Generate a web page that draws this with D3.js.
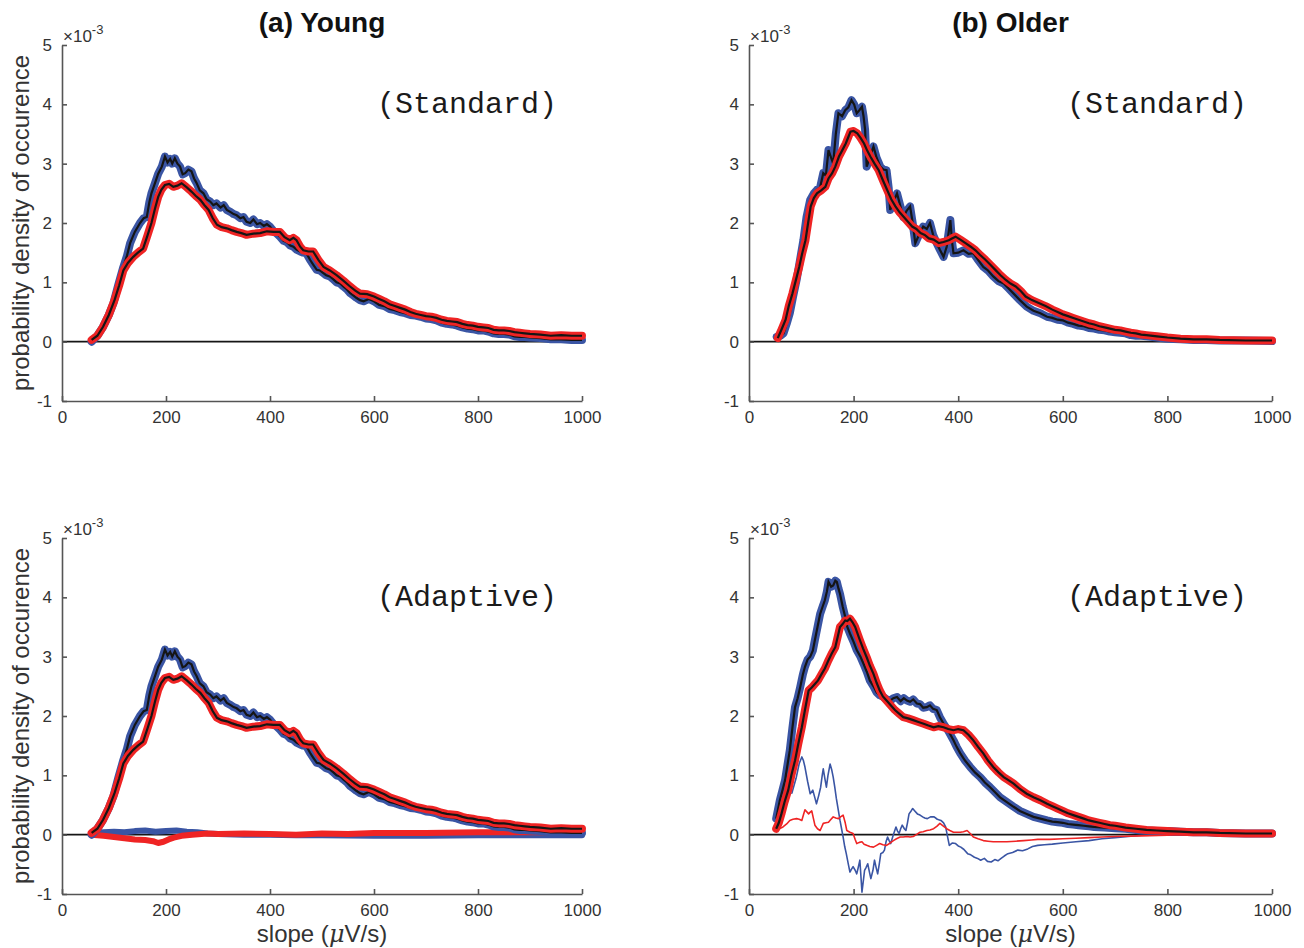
<!DOCTYPE html>
<html>
<head>
<meta charset="utf-8">
<script src="https://cdn.jsdelivr.net/npm/d3@7"></script>
<style>
  html, body { margin: 0; padding: 0; background: #fff; }
  svg { display: block; }
</style>
</head>
<body>
<svg id="chart" width="1304" height="948"></svg>
<script>
// ---------------- DATA (slope in µV/s, density in 1e-3 units) ----------------
const xTicks = [0, 200, 400, 600, 800, 1000];
const yTicks = [-1, 0, 1, 2, 3, 4, 5];
const columnTitles = ["(a) Young", "(b) Older"];
const rowLabels = ["(Standard)", "(Adaptive)"];

// (a) Young, Standard
const youngStdBlue = [[57,0.0],[68,0.1],[79,0.25],[90,0.45],[99,0.65],[108,0.95],[118,1.26],[125,1.45],[131,1.66],[140,1.85],[150,2.0],[157,2.08],[163,2.1],[168,2.35],[172,2.5],[178,2.65],[185,2.83],[192,2.95],[198,3.12],[203,3.02],[208,3.08],[212,3.0],[217,3.09],[222,3.0],[227,2.95],[232,2.82],[237,2.84],[243,2.9],[249,2.87],[254,2.75],[259,2.67],[265,2.55],[272,2.5],[278,2.4],[285,2.36],[291,2.3],[297,2.33],[305,2.26],[311,2.3],[317,2.22],[325,2.18],[330,2.15],[336,2.13],[343,2.08],[349,2.1],[355,2.02],[362,2.0],[368,2.06],[375,1.98],[381,2.0],[388,1.95],[394,1.98],[400,1.94],[407,1.86],[413,1.82],[419,1.77],[426,1.7],[432,1.68],[439,1.62],[445,1.6],[451,1.55],[458,1.52],[464,1.5],[470,1.49],[477,1.38],[483,1.3],[490,1.21],[496,1.2],[502,1.16],[508,1.12],[515,1.1],[522,1.05],[528,1.0],[535,0.98],[541,0.93],[548,0.88],[554,0.82],[560,0.78],[566,0.74],[573,0.7],[580,0.68],[590,0.72],[600,0.68],[610,0.62],[620,0.6],[630,0.55],[640,0.53],[650,0.5],[660,0.48],[670,0.45],[680,0.44],[690,0.42],[700,0.39],[710,0.38],[720,0.36],[730,0.32],[740,0.3],[750,0.29],[760,0.27],[770,0.24],[780,0.22],[790,0.21],[800,0.19],[810,0.19],[820,0.17],[830,0.14],[840,0.13],[850,0.13],[860,0.12],[870,0.09],[880,0.08],[890,0.08],[900,0.07],[920,0.06],[940,0.04],[960,0.04],[980,0.03],[1000,0.03]];
const youngStdRed = [[57,0.03],[68,0.1],[79,0.25],[90,0.45],[101,0.7],[110,0.95],[118,1.2],[127,1.33],[137,1.43],[146,1.5],[156,1.57],[164,1.78],[172,2.0],[179,2.25],[185,2.44],[191,2.56],[198,2.64],[206,2.66],[214,2.61],[222,2.63],[230,2.67],[240,2.6],[249,2.53],[257,2.46],[266,2.39],[274,2.3],[282,2.22],[290,2.08],[298,1.97],[307,1.93],[317,1.91],[326,1.88],[336,1.85],[345,1.83],[355,1.8],[368,1.82],[381,1.83],[394,1.86],[407,1.85],[419,1.85],[428,1.76],[438,1.71],[445,1.75],[451,1.71],[458,1.6],[464,1.54],[474,1.52],[483,1.52],[493,1.38],[503,1.26],[515,1.2],[528,1.12],[541,1.03],[554,0.93],[564,0.86],[573,0.81],[587,0.8],[600,0.76],[610,0.72],[620,0.68],[630,0.63],[640,0.6],[650,0.57],[660,0.54],[670,0.5],[680,0.47],[690,0.45],[700,0.43],[710,0.42],[720,0.4],[730,0.37],[740,0.35],[750,0.34],[760,0.33],[770,0.3],[780,0.28],[790,0.27],[800,0.25],[810,0.24],[820,0.23],[830,0.2],[840,0.19],[850,0.19],[860,0.18],[870,0.16],[880,0.15],[890,0.14],[900,0.13],[920,0.12],[940,0.1],[960,0.11],[980,0.1],[1000,0.1]];

// (b) Older, Standard
const olderStdBlue = [[53,0.08],[60,0.1],[66,0.14],[72,0.3],[78,0.48],[84,0.75],[91,1.04],[97,1.35],[104,1.71],[110,2.1],[117,2.39],[124,2.5],[130,2.56],[136,2.6],[142,2.84],[147,2.8],[152,3.23],[157,3.1],[161,3.0],[166,3.5],[171,3.85],[178,3.8],[184,3.9],[190,3.95],[196,4.07],[201,4.0],[206,3.85],[211,3.9],[216,3.96],[219,3.8],[222,3.57],[225,2.95],[231,3.1],[238,3.29],[244,3.1],[251,2.95],[257,2.9],[263,2.89],[267,2.6],[270,2.22],[276,2.35],[283,2.5],[289,2.3],[295,2.1],[301,2.2],[308,2.28],[313,2.0],[318,1.66],[325,1.8],[333,1.94],[340,1.9],[346,2.0],[352,1.8],[359,1.66],[365,1.55],[372,1.43],[378,1.6],[385,2.05],[388,1.7],[391,1.49],[400,1.5],[410,1.54],[420,1.48],[429,1.49],[438,1.38],[448,1.26],[457,1.2],[467,1.1],[477,1.02],[487,0.98],[496,0.9],[506,0.81],[518,0.7],[531,0.59],[544,0.52],[557,0.48],[570,0.42],[580,0.4],[590,0.37],[600,0.36],[610,0.32],[620,0.3],[630,0.27],[640,0.26],[650,0.23],[660,0.22],[670,0.2],[680,0.19],[690,0.17],[700,0.16],[710,0.15],[720,0.14],[730,0.11],[740,0.1],[750,0.1],[760,0.09],[780,0.07],[800,0.05],[825,0.04],[850,0.03],[875,0.03],[900,0.02],[950,0.02],[1000,0.01]];
const olderStdRed = [[55,0.06],[62,0.2],[70,0.37],[76,0.6],[83,0.81],[90,1.05],[96,1.26],[102,1.5],[108,1.71],[113,2.0],[118,2.28],[124,2.42],[130,2.5],[138,2.55],[146,2.61],[152,2.75],[159,2.84],[165,2.95],[172,3.12],[178,3.22],[185,3.34],[190,3.45],[194,3.54],[200,3.55],[207,3.51],[213,3.44],[220,3.34],[226,3.22],[232,3.12],[240,3.0],[248,2.89],[256,2.72],[264,2.56],[272,2.4],[280,2.28],[288,2.18],[296,2.1],[304,2.02],[312,1.94],[320,1.9],[328,1.83],[336,1.8],[344,1.74],[353,1.72],[363,1.66],[372,1.68],[382,1.71],[388,1.74],[395,1.77],[404,1.72],[414,1.66],[424,1.6],[433,1.54],[442,1.46],[452,1.38],[461,1.3],[471,1.21],[481,1.12],[491,1.04],[500,0.98],[510,0.93],[520,0.85],[529,0.76],[541,0.7],[554,0.65],[567,0.6],[580,0.54],[590,0.5],[600,0.46],[610,0.43],[620,0.4],[630,0.37],[640,0.34],[650,0.31],[660,0.29],[670,0.26],[680,0.24],[690,0.22],[700,0.2],[710,0.19],[720,0.17],[730,0.15],[740,0.14],[750,0.12],[760,0.11],[780,0.09],[800,0.07],[825,0.05],[850,0.04],[875,0.04],[900,0.03],[950,0.02],[1000,0.02]];

// (a) Young, Adaptive
const youngAdaBlue = youngStdBlue.map(d => [d[0], d[1]]);
const youngAdaRed = youngStdRed.map(d => [d[0], d[1]]);
const youngAdaBlueDiff = [[57,0.02],[80,0.04],[100,0.05],[120,0.04],[140,0.06],[160,0.07],[180,0.05],[200,0.06],[220,0.07],[240,0.05],[260,0.04],[280,0.02],[300,0.01],[350,0.0],[400,0.0],[450,-0.01],[500,-0.01],[600,-0.02],[700,-0.02],[800,-0.01],[900,-0.01],[1000,-0.01]];
const youngAdaRedDiff = [[57,0.0],[80,-0.02],[100,-0.04],[120,-0.06],[140,-0.08],[160,-0.09],[175,-0.11],[185,-0.14],[195,-0.12],[205,-0.08],[215,-0.05],[230,-0.02],[250,0.0],[280,0.02],[300,0.01],[350,0.02],[400,0.01],[450,0.0],[500,0.02],[550,0.01],[600,0.03],[700,0.03],[800,0.04],[900,0.04],[1000,0.04]];

// (b) Older, Adaptive
const olderAdaBlue = [[52,0.27],[59,0.58],[64,0.75],[69,0.92],[74,1.2],[78,1.42],[83,1.8],[88,2.15],[93,2.3],[98,2.49],[103,2.7],[107,2.83],[112,2.95],[117,3.0],[122,3.1],[126,3.28],[131,3.5],[136,3.72],[141,3.85],[145,3.95],[149,4.1],[152,4.26],[157,4.18],[161,4.2],[165,4.28],[168,4.26],[171,4.15],[174,4.06],[179,3.85],[184,3.67],[188,3.5],[193,3.39],[200,3.25],[206,3.11],[213,3.0],[219,2.88],[225,2.75],[231,2.6],[238,2.5],[244,2.4],[250,2.35],[257,2.32],[263,2.28],[270,2.26],[276,2.3],[283,2.32],[290,2.25],[296,2.3],[302,2.26],[308,2.24],[314,2.28],[321,2.21],[327,2.2],[333,2.14],[340,2.15],[346,2.18],[352,2.12],[359,2.1],[365,1.98],[372,1.87],[381,1.75],[391,1.59],[397,1.48],[404,1.37],[413,1.25],[423,1.14],[432,1.05],[442,0.97],[451,0.88],[461,0.8],[470,0.72],[480,0.63],[493,0.55],[506,0.47],[518,0.4],[531,0.35],[544,0.3],[557,0.27],[570,0.24],[580,0.22],[590,0.21],[600,0.2],[610,0.18],[620,0.17],[630,0.16],[640,0.15],[650,0.14],[660,0.13],[680,0.12],[700,0.11],[720,0.1],[740,0.08],[760,0.07],[780,0.06],[800,0.06],[825,0.05],[850,0.04],[875,0.04],[900,0.03],[950,0.02],[1000,0.02]];
const olderAdaRed = [[52,0.1],[57,0.2],[62,0.35],[68,0.55],[75,0.75],[81,1.0],[88,1.25],[94,1.52],[101,1.81],[107,2.1],[114,2.43],[120,2.48],[126,2.54],[132,2.6],[139,2.71],[145,2.8],[152,2.94],[158,3.05],[165,3.16],[170,3.35],[174,3.5],[179,3.55],[184,3.61],[188,3.6],[193,3.64],[198,3.58],[203,3.5],[207,3.4],[212,3.28],[218,3.14],[225,2.99],[231,2.85],[238,2.71],[244,2.56],[250,2.43],[256,2.33],[263,2.26],[271,2.18],[279,2.1],[287,2.04],[295,1.98],[304,1.96],[314,1.93],[324,1.9],[334,1.87],[343,1.84],[353,1.81],[362,1.83],[372,1.81],[381,1.78],[391,1.76],[400,1.78],[410,1.76],[420,1.68],[429,1.59],[438,1.48],[448,1.37],[457,1.25],[467,1.14],[477,1.05],[487,0.97],[496,0.92],[506,0.86],[518,0.77],[531,0.69],[544,0.63],[557,0.58],[570,0.52],[580,0.48],[590,0.44],[600,0.4],[610,0.36],[620,0.33],[630,0.3],[640,0.27],[650,0.24],[660,0.22],[670,0.2],[680,0.18],[690,0.16],[700,0.15],[720,0.12],[740,0.1],[760,0.08],[780,0.07],[800,0.06],[825,0.05],[850,0.04],[875,0.04],[900,0.03],[950,0.02],[1000,0.02]];
const olderAdaBlueDiff = [[82,0.7],[90,0.95],[96,1.2],[101,1.31],[104,1.25],[107,1.14],[112,0.9],[117,0.69],[122,0.75],[126,0.62],[129,0.52],[133,0.65],[137,0.8],[140,1.0],[142,1.11],[145,0.95],[148,0.8],[151,1.0],[155,1.19],[158,1.1],[161,0.97],[164,0.8],[167,0.61],[171,0.4],[174,0.24],[177,0.1],[180,-0.04],[183,-0.2],[186,-0.32],[190,-0.5],[193,-0.63],[196,-0.58],[199,-0.54],[203,-0.6],[206,-0.66],[209,-0.55],[212,-0.43],[214,-0.7],[216,-0.97],[219,-0.75],[221,-0.6],[224,-0.55],[227,-0.49],[230,-0.62],[233,-0.74],[237,-0.6],[240,-0.43],[243,-0.55],[246,-0.66],[249,-0.5],[252,-0.32],[256,-0.3],[259,-0.26],[262,-0.12],[265,-0.04],[268,-0.1],[271,-0.15],[276,0.0],[281,0.13],[284,0.06],[287,0.02],[290,0.1],[293,0.16],[297,0.1],[300,0.07],[303,0.2],[306,0.35],[310,0.4],[313,0.44],[317,0.4],[322,0.35],[327,0.33],[332,0.3],[336,0.28],[341,0.27],[347,0.3],[354,0.3],[360,0.26],[367,0.24],[372,0.2],[376,0.13],[380,-0.05],[383,-0.18],[389,-0.14],[395,-0.15],[400,-0.19],[405,-0.21],[411,-0.25],[418,-0.32],[424,-0.34],[431,-0.38],[437,-0.4],[443,-0.43],[450,-0.4],[456,-0.45],[463,-0.46],[470,-0.42],[476,-0.44],[482,-0.4],[488,-0.36],[495,-0.32],[504,-0.3],[514,-0.26],[523,-0.27],[533,-0.24],[542,-0.2],[552,-0.18],[565,-0.17],[580,-0.16],[600,-0.14],[625,-0.12],[650,-0.1],[675,-0.07],[700,-0.05],[725,-0.03],[750,-0.01],[800,0.0],[850,0.0],[900,-0.01],[1000,-0.01]];
const olderAdaRedDiff = [[52,0.07],[58,0.1],[65,0.13],[72,0.18],[78,0.24],[84,0.26],[91,0.27],[96,0.26],[101,0.24],[104,0.33],[107,0.42],[111,0.38],[114,0.35],[117,0.38],[120,0.4],[123,0.28],[126,0.16],[131,0.1],[136,0.07],[139,0.13],[142,0.19],[147,0.2],[152,0.21],[156,0.25],[161,0.3],[166,0.28],[171,0.27],[175,0.3],[180,0.33],[184,0.2],[187,0.07],[193,0.04],[199,0.02],[203,-0.08],[206,-0.15],[211,-0.13],[216,-0.12],[220,-0.16],[225,-0.18],[231,-0.2],[238,-0.21],[244,-0.18],[250,-0.15],[256,-0.17],[263,-0.18],[270,-0.14],[276,-0.1],[282,-0.07],[289,-0.04],[295,-0.04],[302,-0.03],[308,-0.04],[314,-0.03],[320,0.0],[327,0.04],[333,0.05],[340,0.07],[346,0.08],[353,0.1],[359,0.14],[365,0.19],[371,0.15],[378,0.1],[384,0.07],[391,0.04],[397,0.04],[404,0.04],[410,0.05],[417,0.07],[423,0.02],[429,-0.04],[438,-0.07],[448,-0.1],[457,-0.11],[467,-0.12],[480,-0.12],[493,-0.12],[510,-0.11],[525,-0.1],[540,-0.09],[552,-0.08],[575,-0.08],[600,-0.07],[625,-0.06],[650,-0.05],[675,-0.04],[700,-0.03],[750,-0.02],[800,-0.01],[900,-0.01],[1000,-0.01]];

// ---------------- LAYOUT ----------------
const panels = [
  { col: 0, row: 0, left: 62,  right: 582,  top: 45,  bottom: 401, blue: youngStdBlue, red: youngStdRed, diffs: [] },
  { col: 1, row: 0, left: 749, right: 1272, top: 45,  bottom: 401, blue: olderStdBlue, red: olderStdRed, diffs: [] },
  { col: 0, row: 1, left: 62,  right: 582,  top: 538, bottom: 894, blue: youngAdaBlue, red: youngAdaRed,
    diffs: [{ data: youngAdaBlueDiff, color: "#3a55a4", width: 6 }, { data: youngAdaRedDiff, color: "#ef2424", width: 6 }] },
  { col: 1, row: 1, left: 749, right: 1272, top: 538, bottom: 894, blue: olderAdaBlue, red: olderAdaRed,
    diffs: [{ data: olderAdaBlueDiff, color: "#3a55a4", width: 1.6 }, { data: olderAdaRedDiff, color: "#ef2424", width: 1.6 }] }
];

const BLUE = "#3a55a4", RED = "#ef2424", BLACK = "#151515", AXIS = "#555555", TEXT = "#333333";
const FONT = "'Liberation Sans', Arial, Helvetica, sans-serif";
const fmt = d => String(d); // plain integers, hyphen-minus

const svg = d3.select("#chart");

panels.forEach(p => {
  const x = d3.scaleLinear().domain([0, 1000]).range([p.left, p.right]);
  const y = d3.scaleLinear().domain([-1, 5]).range([p.bottom, p.top]);
  const g = svg.append("g");
  const line = d3.line().x(d => x(d[0])).y(d => y(d[1]));

  // zero line
  g.append("line")
    .attr("x1", x(0)).attr("x2", x(1000)).attr("y1", y(0)).attr("y2", y(0))
    .attr("stroke", BLACK).attr("stroke-width", 1.6);

  const drawOutlined = (data, color) => {
    g.append("path").datum(data).attr("d", line)
      .attr("fill", "none").attr("stroke", color).attr("stroke-width", 8)
      .attr("stroke-linejoin", "round").attr("stroke-linecap", "round");
  };
  const drawCore = (data) => {
    g.append("path").datum(data).attr("d", line)
      .attr("fill", "none").attr("stroke", BLACK).attr("stroke-width", 2.2)
      .attr("stroke-linejoin", "miter").attr("stroke-linecap", "butt");
  };

  p.diffs.forEach(dd => {
    g.append("path").datum(dd.data).attr("d", line)
      .attr("fill", "none").attr("stroke", dd.color).attr("stroke-width", dd.width)
      .attr("stroke-linejoin", "round").attr("stroke-linecap", "round");
  });

  drawOutlined(p.blue, BLUE);
  drawCore(p.blue);
  drawOutlined(p.red, RED);
  drawCore(p.red);

  // axes (MATLAB style: inward ticks, no box)
  const xAxis = d3.axisBottom(x).tickValues(xTicks).tickFormat(fmt).tickSizeInner(-5).tickSizeOuter(0).tickPadding(10);
  const yAxis = d3.axisLeft(y).tickValues(yTicks).tickFormat(fmt).tickSizeInner(-5).tickSizeOuter(0).tickPadding(10);

  const gx = g.append("g").attr("transform", `translate(0,${p.bottom})`).call(xAxis);
  const gy = g.append("g").attr("transform", `translate(${p.left},0)`).call(yAxis);
  [gx, gy].forEach(ax => {
    ax.select(".domain").attr("stroke", AXIS).attr("stroke-width", 1.6);
    ax.selectAll(".tick line").attr("stroke", AXIS).attr("stroke-width", 1.6);
    ax.selectAll(".tick text").attr("fill", TEXT).style("font-family", FONT).style("font-size", "17px");
  });

  // exponent label
  const ex = g.append("text").attr("x", p.left + 1).attr("y", p.top - 3)
    .attr("fill", TEXT).style("font-family", FONT).style("font-size", "17px");
  ex.append("tspan").text("\u00d710");
  ex.append("tspan").attr("dy", -8).style("font-size", "13px").text("-3");

  // condition label
  g.append("text").attr("x", p.right - 25).attr("y", p.top + 68)
    .attr("text-anchor", "end").attr("fill", "#1a1a1a")
    .style("font-family", "'Liberation Mono', 'Courier New', monospace").style("font-size", "30px")
    .text(rowLabels[p.row]);

  // y-label (left column only)
  if (p.col === 0) {
    g.append("text")
      .attr("transform", `translate(29,${(p.top + p.bottom) / 2}) rotate(-90)`)
      .attr("text-anchor", "middle").attr("fill", TEXT)
      .style("font-family", FONT).style("font-size", "24px")
      .text("probability density of occurence");
  }

  // titles (top row)
  if (p.row === 0) {
    g.append("text").attr("x", (p.left + p.right) / 2).attr("y", 32)
      .attr("text-anchor", "middle").attr("fill", "#111")
      .style("font-family", FONT).style("font-size", "28px").style("font-weight", "bold")
      .text(columnTitles[p.col]);
  }

  // x-label (bottom row)
  if (p.row === 1) {
    const t = g.append("text").attr("x", (p.left + p.right) / 2).attr("y", 942)
      .attr("text-anchor", "middle").attr("fill", TEXT)
      .style("font-family", FONT).style("font-size", "24px");
    t.append("tspan").text("slope (");
    t.append("tspan").style("font-style", "italic").style("font-family", "'DejaVu Serif', serif").text("\u03bc");
    t.append("tspan").text("V/s)");
  }
});
</script>
</body>
</html>
